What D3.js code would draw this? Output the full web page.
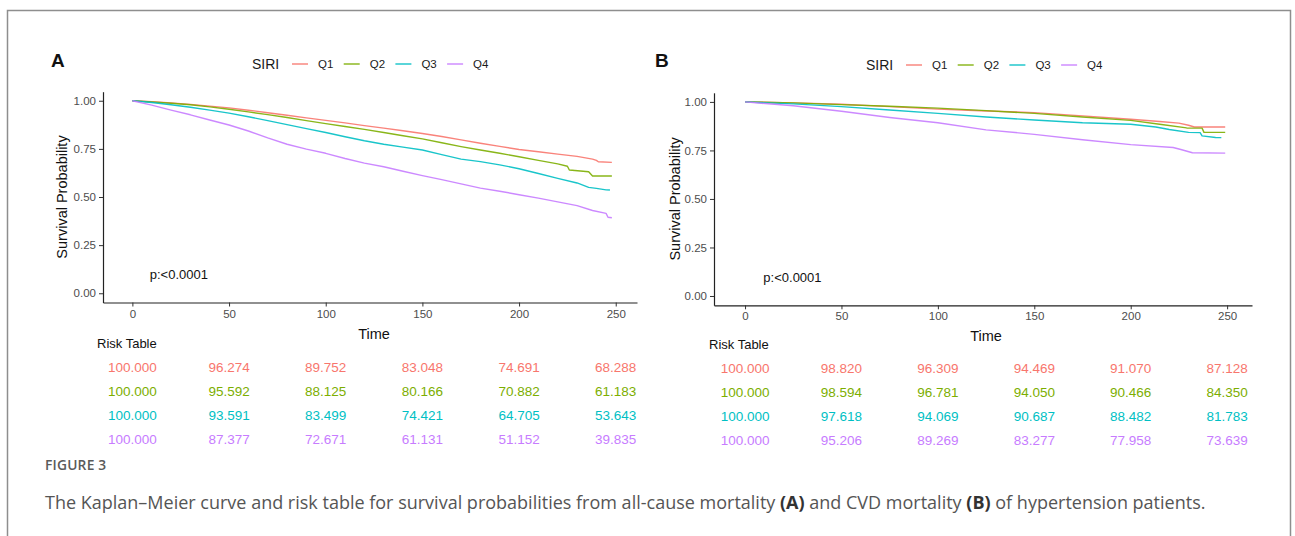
<!DOCTYPE html>
<html>
<head>
<meta charset="utf-8">
<script src="https://cdn.jsdelivr.net/npm/d3@7"></script>
<style>
  html, body { margin: 0; padding: 0; background: #fff; }
  svg { display: block; }
  .chart-text { font-family: "Liberation Sans", Arial, sans-serif; }
  .caption { font-family: "Open Sans", sans-serif; }
</style>
</head>
<body>
<svg id="chart" width="1295" height="536"></svg>
<script>
// ---------------- DATA ----------------
const groups = ["Q1", "Q2", "Q3", "Q4"];
const legendTitle = "SIRI";
const xTicks = [0, 50, 100, 150, 200, 250];
const yTicks = [0, 0.25, 0.5, 0.75, 1];
const riskTimes = [0, 50, 100, 150, 200, 250];

// Panel A: all-cause mortality (time, survival)
const curveA_Q1 = [[0,1],[10,0.995],[20,0.988],[30,0.981],[40,0.972],[50,0.963],[60,0.951],[70,0.938],[80,0.925],[90,0.911],[100,0.898],[110,0.885],[120,0.871],[130,0.858],[140,0.844],[150,0.830],[160,0.814],[170,0.797],[180,0.779],[190,0.763],[200,0.747],[210,0.735],[220,0.723],[230,0.711],[238,0.697],[240,0.690],[241,0.683],[248,0.680]];
const curveA_Q2 = [[0,1],[10,0.994],[20,0.987],[30,0.979],[40,0.968],[50,0.956],[60,0.942],[70,0.928],[80,0.913],[90,0.897],[100,0.881],[110,0.866],[120,0.851],[130,0.835],[140,0.818],[150,0.802],[160,0.782],[170,0.762],[180,0.744],[190,0.727],[200,0.709],[210,0.690],[220,0.672],[225,0.660],[226,0.640],[236,0.631],[238,0.609],[248,0.609]];
const curveA_Q3 = [[0,1],[10,0.991],[20,0.979],[30,0.966],[40,0.951],[50,0.936],[60,0.917],[70,0.897],[80,0.876],[90,0.855],[100,0.835],[110,0.813],[120,0.792],[130,0.774],[140,0.759],[150,0.744],[160,0.720],[170,0.697],[180,0.684],[190,0.667],[200,0.647],[210,0.622],[220,0.597],[230,0.573],[236,0.550],[240,0.545],[245,0.537],[247,0.536]];
const curveA_Q4 = [[0,1],[10,0.977],[20,0.951],[30,0.927],[40,0.900],[50,0.874],[60,0.843],[70,0.807],[80,0.774],[90,0.749],[100,0.727],[110,0.700],[120,0.676],[130,0.657],[140,0.634],[150,0.611],[160,0.590],[170,0.568],[180,0.546],[190,0.530],[200,0.512],[210,0.494],[220,0.475],[230,0.455],[238,0.430],[245,0.415],[246,0.395],[248,0.392]];

// Panel B: CVD mortality (time, survival)
const curveB_Q1 = [[0,1],[25,0.995],[50,0.988],[75,0.976],[100,0.963],[125,0.953],[150,0.945],[175,0.928],[200,0.911],[215,0.899],[225,0.891],[230,0.880],[233,0.871],[249,0.871]];
const curveB_Q2 = [[0,1],[25,0.995],[50,0.986],[75,0.978],[100,0.968],[125,0.955],[150,0.941],[175,0.922],[200,0.905],[215,0.885],[229,0.866],[237,0.865],[238,0.843],[249,0.843]];
const curveB_Q3 = [[0,1],[25,0.990],[50,0.976],[75,0.958],[100,0.941],[125,0.922],[150,0.907],[175,0.893],[200,0.885],[213,0.871],[220,0.858],[230,0.843],[236,0.842],[237,0.825],[244,0.817],[247,0.816]];
const curveB_Q4 = [[0,1],[25,0.980],[50,0.952],[75,0.920],[100,0.893],[125,0.856],[150,0.833],[175,0.805],[200,0.780],[222,0.765],[226,0.755],[232,0.738],[249,0.736]];

// Risk tables
const riskA = [
  [100.000, 96.274, 89.752, 83.048, 74.691, 68.288],
  [100.000, 95.592, 88.125, 80.166, 70.882, 61.183],
  [100.000, 93.591, 83.499, 74.421, 64.705, 53.643],
  [100.000, 87.377, 72.671, 61.131, 51.152, 39.835]
];
const riskB = [
  [100.000, 98.820, 96.309, 94.469, 91.070, 87.128],
  [100.000, 98.594, 96.781, 94.050, 90.466, 84.350],
  [100.000, 97.618, 94.069, 90.687, 88.482, 81.783],
  [100.000, 95.206, 89.269, 83.277, 77.958, 73.639]
];
const pText = "p:<0.0001";
const captionLabel = "FIGURE 3";

// ---------------- STYLE ----------------
const colors = ["#F8766D", "#7CAE00", "#00BFC4", "#C77CFF"];
const svg = d3.select("#chart");

svg.append("rect").attr("x", 0).attr("y", 0).attr("width", 1295).attr("height", 536).attr("fill", "#fff");
// outer figure frame
svg.append("rect")
  .attr("x", 7.5).attr("y", 10.5).attr("width", 1283).attr("height", 560)
  .attr("fill", "none").attr("stroke", "#8e8e8e").attr("stroke-width", 1.5);

function drawPanel(cfg) {
  const g = svg.append("g").attr("class", "chart-text");
  const x = d3.scaleLinear().domain(cfg.xDomain).range(cfg.xRange);
  const y = d3.scaleLinear().domain(cfg.yDomain).range(cfg.yRange);

  // panel letter
  g.append("text").attr("x", cfg.letterX).attr("y", 67)
    .attr("font-size", 19).attr("font-weight", "bold").attr("fill", "#111").text(cfg.letter);

  // legend
  const leg = g.append("g").attr("transform", `translate(${cfg.legendX},${cfg.legendY})`);
  leg.append("text").attr("x", 0).attr("y", 5).attr("font-size", 14).attr("fill", "#1a1a1a").text(legendTitle);
  groups.forEach((grp, i) => {
    const gx = 40 + i * 51.7;
    leg.append("line").attr("x1", gx).attr("x2", gx + 16).attr("y1", 0).attr("y2", 0)
      .attr("stroke", colors[i]).attr("stroke-width", 1.3);
    leg.append("text").attr("x", gx + 26).attr("y", 4).attr("font-size", 11.5).attr("fill", "#1a1a1a").text(grp);
  });

  // axes
  const xAxis = d3.axisBottom(x).tickValues(xTicks).tickSize(4).tickPadding(3).tickSizeOuter(0);
  const yAxis = d3.axisLeft(y).tickValues(yTicks).tickFormat(d3.format(".2f")).tickSize(4).tickPadding(3).tickSizeOuter(0);
  const gx = g.append("g").attr("transform", `translate(0,${cfg.yRange[0]})`).call(xAxis);
  const gy = g.append("g").attr("transform", `translate(${cfg.xRange[0]},0)`).call(yAxis);
  [gx, gy].forEach(a => {
    a.attr("font-family", null);
    a.select(".domain").attr("stroke", "#222").attr("stroke-width", 1.2);
    a.selectAll(".tick line").attr("stroke", "#333").attr("stroke-width", 1);
    a.selectAll(".tick text").attr("fill", "#4d4d4d").attr("font-size", 11.5);
  });

  // axis titles
  g.append("text").attr("x", x(125)).attr("y", cfg.yRange[0] + 36).attr("text-anchor", "middle")
    .attr("font-size", 14.5).attr("fill", "#111").text("Time");
  g.append("text").attr("transform", `translate(${cfg.yTitleX},${y(0.5)}) rotate(-90)`)
    .attr("text-anchor", "middle").attr("font-size", 14.5).attr("fill", "#111").text("Survival Probability");

  // curves
  const line = d3.line().x(d => x(d[0])).y(d => y(d[1])).curve(d3.curveLinear);
  cfg.curves.forEach((c, i) => {
    g.append("path").datum(c).attr("d", line).attr("fill", "none")
      .attr("stroke", colors[i]).attr("stroke-width", 1.4).attr("stroke-opacity", 0.9)
      .attr("stroke-linejoin", "round");
  });

  // p-value
  g.append("text").attr("x", x(cfg.pT)).attr("y", y(0.1) + 5).attr("font-size", 13)
    .attr("fill", "#111").text(pText);

  // risk table
  g.append("text").attr("x", cfg.riskTitleX).attr("y", cfg.riskTitleY).attr("font-size", 13)
    .attr("fill", "#111").text("Risk Table");
  cfg.risk.forEach((row, i) => {
    row.forEach((v, j) => {
      g.append("text").attr("x", x(riskTimes[j])).attr("y", cfg.riskRowY[i] + 5)
        .attr("text-anchor", "middle").attr("font-size", 13.5).attr("fill", colors[i])
        .text(d3.format(".3f")(v));
    });
  });
}

drawPanel({
  letter: "A", letterX: 51,
  legendX: 252, legendY: 64,
  xDomain: [-15.2, 261], xRange: [103, 637],
  yDomain: [-0.048, 1.047], yRange: [302.5, 91.7],
  yTitleX: 67,
  curves: [curveA_Q1, curveA_Q2, curveA_Q3, curveA_Q4],
  pT: 9,
  risk: riskA, riskTitleX: 97, riskTitleY: 348,
  riskRowY: [367, 391, 415, 439]
});

drawPanel({
  letter: "B", letterX: 655,
  legendX: 866, legendY: 65,
  xDomain: [-16.1, 262.9], xRange: [714, 1252],
  yDomain: [-0.048, 1.047], yRange: [305.3, 92.8],
  yTitleX: 680,
  curves: [curveB_Q1, curveB_Q2, curveB_Q3, curveB_Q4],
  pT: 9.5,
  risk: riskB, riskTitleX: 709, riskTitleY: 349,
  riskRowY: [368, 392, 416, 440]
});

// caption
const capG = svg.append("g").attr("class", "caption");
capG.append("text").attr("x", 45).attr("y", 470)
  .attr("font-size", 13.8).attr("font-weight", 600)
  .attr("fill", "#5a5a5a").attr("letter-spacing", 0.2).text(captionLabel);
const cap = capG.append("text").attr("x", 45).attr("y", 509)
  .attr("font-size", 18).attr("fill", "#555");
cap.append("tspan").text("The Kaplan\u2013Meier curve and risk table for survival probabilities from all-cause mortality ");
cap.append("tspan").attr("font-weight", 700).attr("fill", "#333").text("(A)");
cap.append("tspan").text(" and CVD mortality ");
cap.append("tspan").attr("font-weight", 700).attr("fill", "#333").text("(B)");
cap.append("tspan").text(" of hypertension patients.");
</script>
</body>
</html>
